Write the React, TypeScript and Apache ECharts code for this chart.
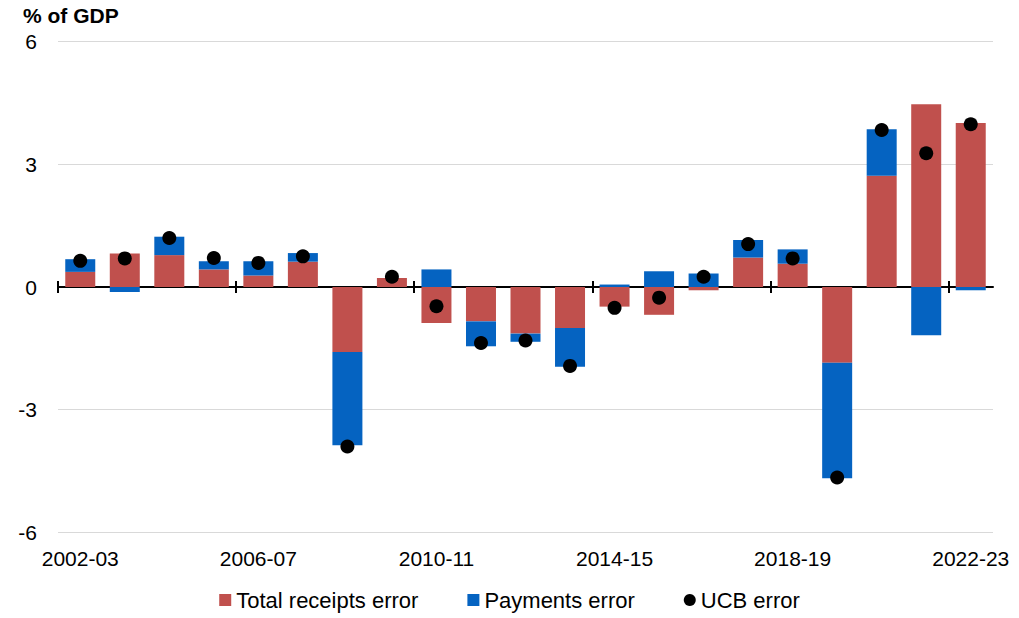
import React, { useEffect, useRef } from "react";
import * as echarts from "echarts";

const categories = [
  "2002-03", "2003-04", "2004-05", "2005-06", "2006-07", "2007-08", "2008-09",
  "2009-10", "2010-11", "2011-12", "2012-13", "2013-14", "2014-15", "2015-16",
  "2016-17", "2017-18", "2018-19", "2019-20", "2020-21", "2021-22", "2022-23",
];

const receiptsError = [
  0.37, 0.82, 0.78, 0.43, 0.28, 0.62, -1.59, 0.22, -0.88, -0.84, -1.14,
  -1.0, -0.48, -0.68, -0.08, 0.72, 0.57, -1.85, 2.72, 4.47, 4.01,
];

const paymentsError = [
  0.31, -0.12, 0.45, 0.2, 0.35, 0.21, -2.28, 0.0, 0.43, -0.61, -0.2,
  -0.95, 0.06, 0.385, 0.33, 0.43, 0.35, -2.83, 1.14, -1.18, -0.08,
];

const ucbError = [
  0.64, 0.7, 1.2, 0.71, 0.59, 0.75, -3.9, 0.25, -0.47, -1.37, -1.31,
  -1.93, -0.51, -0.26, 0.25, 1.05, 0.7, -4.66, 3.84, 3.27, 3.98,
];

// category boundaries at which the zero line carries a tick mark
const tickBoundaries = [0, 4, 8, 12, 16, 20];

const yTicks = { min: -6, max: 6, interval: 3 };

const FONT = "'Liberation Sans', Arial, sans-serif";
const RED = "#C0504D";
const BLUE = "#0563C1";

export default function App() {
  const ref = useRef<HTMLDivElement>(null);

  useEffect(() => {
    if (!ref.current) return;
    const chart = echarts.init(ref.current, undefined, { renderer: "svg" });
    const tickAxisBase = {
      type: "value",
      min: 0,
      max: categories.length,
      position: "bottom",
      axisLabel: { show: false },
      splitLine: { show: false },
    };
    chart.setOption({
      animation: false,
      textStyle: { fontFamily: FONT },
      title: {
        text: "% of GDP",
        left: 23,
        top: 5,
        padding: 0,
        textStyle: { fontFamily: FONT, fontSize: 21, fontWeight: "bold", color: "#000" },
      },
      grid: { left: 58, right: 26, top: 41.7, bottom: 85.7, containLabel: false, outerBoundsMode: "none" },
      legend: {
        bottom: 2,
        left: "center",
        itemWidth: 12,
        itemHeight: 12,
        itemGap: 49,
        textStyle: { fontFamily: FONT, fontSize: 22, color: "#000" },
        data: [
          { name: "Total receipts error", icon: "rect" },
          { name: "Payments error", icon: "rect" },
          { name: "UCB error", icon: "circle" },
        ],
      },
      xAxis: [
        {
          type: "category",
          data: categories,
          position: "bottom",
          axisLine: { show: false, onZero: false },
          axisTick: { show: false },
          axisLabel: {
            interval: 3,
            fontSize: 21,
            color: "#000",
            fontFamily: FONT,
            margin: 16,
          },
        },
        {
          ...tickAxisBase,
          axisLine: { show: true, onZero: true, onZeroAxisIndex: 0, lineStyle: { color: "#000", width: 2 } },
          axisTick: {
            show: true,
            customValues: tickBoundaries,
            length: 6,
            inside: false,
            lineStyle: { color: "#000", width: 2 },
          },
        },
        {
          ...tickAxisBase,
          axisLine: { show: false, onZero: true, onZeroAxisIndex: 1 },
          axisTick: {
            show: true,
            customValues: tickBoundaries,
            length: 6,
            inside: true,
            lineStyle: { color: "#000", width: 2 },
          },
        },
      ],
      yAxis: [
        {
          type: "value",
          min: yTicks.min,
          max: yTicks.max,
          interval: yTicks.interval,
          axisLine: { show: false },
          axisTick: { show: false },
          axisLabel: { fontSize: 21, color: "#000", fontFamily: FONT, margin: 21 },
          splitLine: { show: true, lineStyle: { color: "#d9d9d9", width: 1 } },
        },
        {
          type: "value",
          position: "right",
          min: yTicks.min,
          max: yTicks.max,
          interval: yTicks.interval,
          axisLine: { show: false },
          axisTick: { show: false },
          axisLabel: { show: false },
          splitLine: { show: false },
        },
      ],
      series: [
        {
          name: "Total receipts error",
          type: "bar",
          stack: "err",
          barWidth: 30,
          itemStyle: { color: RED },
          data: receiptsError,
        },
        {
          name: "Payments error",
          type: "bar",
          stack: "err",
          barWidth: 30,
          itemStyle: { color: BLUE },
          data: paymentsError,
        },
        {
          name: "UCB error",
          type: "scatter",
          symbol: "circle",
          symbolSize: 14,
          itemStyle: { color: "#000", opacity: 1 },
          z: 5,
          data: ucbError,
        },
      ],
    });
    return () => chart.dispose();
  }, []);

  return (
    <div
      ref={ref}
      style={{ position: "fixed", left: 0, top: 0, width: 1019, height: 618, background: "#fff" }}
    />
  );
}
